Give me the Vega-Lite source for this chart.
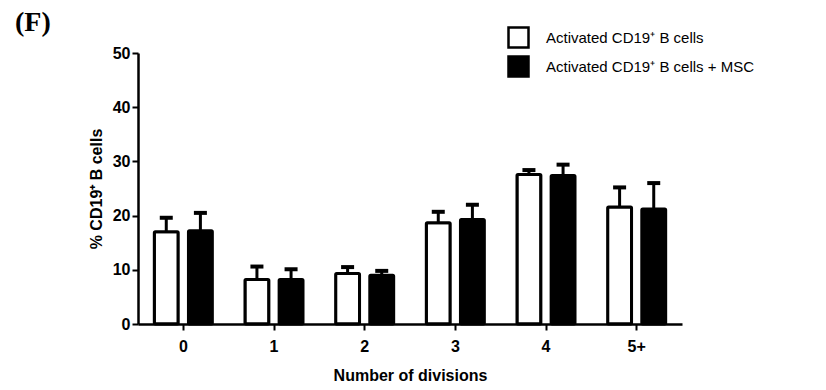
{
  "$schema": "https://vega.github.io/schema/vega-lite/v6.json",
  "autosize": "none",
  "padding": {"left": 138, "top": 53, "right": 144, "bottom": 66},
  "width": 544,
  "height": 271,
  "background": "white",
  "title": {"text": "(F)", "anchor": "start", "frame": "group", "dx": -123, "dy": 50, "offset": 17, "baseline": "alphabetic", "font": "Liberation Serif", "fontSize": 28, "fontWeight": "bold", "color": "black"},
  "config": {"view": {"stroke": null}, "axis": {"grid": false, "domainColor": "black", "tickColor": "black", "labelColor": "black", "titleColor": "black", "labelFont": "Liberation Sans", "titleFont": "Liberation Sans", "labelFontWeight": "bold", "titleFontWeight": "bold"}},
  "data": {"values": [
    {"div": "0", "group": "Activated CD19⁺ B cells", "value": 17.0, "upper": 19.6},
    {"div": "0", "group": "Activated CD19⁺ B cells + MSC", "value": 17.2, "upper": 20.5},
    {"div": "1", "group": "Activated CD19⁺ B cells", "value": 8.2, "upper": 10.6},
    {"div": "1", "group": "Activated CD19⁺ B cells + MSC", "value": 8.2, "upper": 10.1},
    {"div": "2", "group": "Activated CD19⁺ B cells", "value": 9.3, "upper": 10.5},
    {"div": "2", "group": "Activated CD19⁺ B cells + MSC", "value": 9.0, "upper": 9.8},
    {"div": "3", "group": "Activated CD19⁺ B cells", "value": 18.7, "upper": 20.7},
    {"div": "3", "group": "Activated CD19⁺ B cells + MSC", "value": 19.3, "upper": 22.0},
    {"div": "4", "group": "Activated CD19⁺ B cells", "value": 27.6, "upper": 28.4},
    {"div": "4", "group": "Activated CD19⁺ B cells + MSC", "value": 27.4, "upper": 29.4},
    {"div": "5+", "group": "Activated CD19⁺ B cells", "value": 21.6, "upper": 25.2},
    {"div": "5+", "group": "Activated CD19⁺ B cells + MSC", "value": 21.2, "upper": 26.0}
  ]},
  "encoding": {
    "x": {"field": "div", "type": "nominal", "sort": ["0", "1", "2", "3", "4", "5+"],
      "scale": {"paddingInner": 0.36, "paddingOuter": 0.18},
      "axis": {"title": "Number of divisions", "labelAngle": 0, "domainWidth": 2.5, "tickWidth": 2, "tickSize": 6, "labelPadding": 8, "labelFontSize": 16, "titleFontSize": 16, "titlePadding": 13}},
    "xOffset": {"field": "group", "type": "nominal", "sort": ["Activated CD19⁺ B cells", "Activated CD19⁺ B cells + MSC"], "scale": {"paddingInner": 0.3, "paddingOuter": 0}}
  },
  "layer": [
    {
      "mark": {"type": "rule", "stroke": "black", "strokeWidth": 3, "opacity": 1},
      "encoding": {"y": {"field": "value", "type": "quantitative"}, "y2": {"field": "upper"}}
    },
    {
      "mark": {"type": "tick", "color": "black", "thickness": 4, "size": 13, "opacity": 1},
      "encoding": {"y": {"field": "upper", "type": "quantitative"}}
    },
    {
      "mark": {"type": "bar", "stroke": "black", "strokeWidth": 3, "cornerRadius": 1, "opacity": 1},
      "encoding": {
        "y": {"field": "value", "type": "quantitative", "scale": {"domain": [0, 50]},
          "axis": {"title": "% CD19⁺ B cells", "values": [0, 10, 20, 30, 40, 50], "domainWidth": 2.5, "tickWidth": 2, "tickSize": 6, "labelPadding": 2, "labelFontSize": 16, "titleFontSize": 16, "titlePadding": 8}},
        "fill": {"field": "group", "type": "nominal", "sort": ["Activated CD19⁺ B cells", "Activated CD19⁺ B cells + MSC"],
          "scale": {"range": ["white", "black"]},
          "legend": {"title": null, "orient": "none", "legendX": 369, "legendY": -27, "symbolType": "square", "symbolSize": 400, "symbolStrokeColor": "black", "symbolStrokeWidth": 2.5, "symbolOpacity": 1, "labelFont": "Liberation Sans", "labelFontSize": 15, "labelColor": "black", "labelLimit": 400, "rowPadding": -2, "labelOffset": 16}}
      }
    }
  ]
}
